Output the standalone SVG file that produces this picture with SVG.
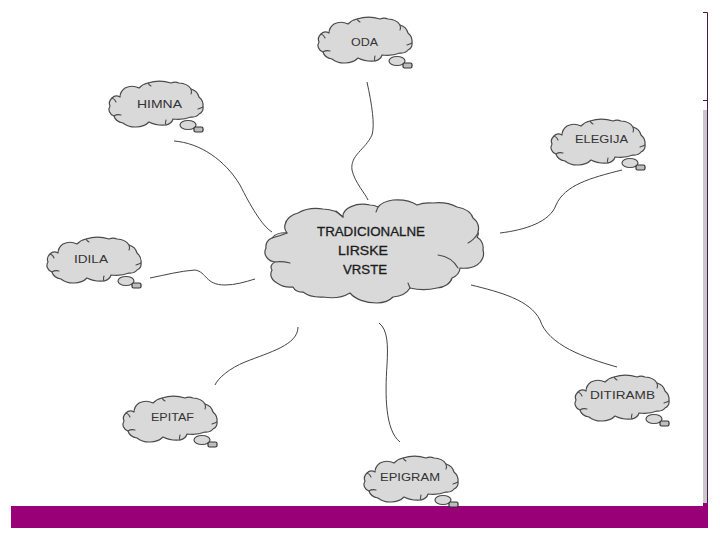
<svg xmlns="http://www.w3.org/2000/svg" width="720" height="540" viewBox="0 0 720 540">
<style>
.cloud{fill:#d9d9d9;stroke:#4a4a4a;stroke-width:1.2;stroke-linejoin:round}
.fold{fill:none;stroke:#4a4a4a;stroke-width:1.1;stroke-linecap:round}
.conn{fill:none;stroke:#444;stroke-width:1}
.lbl{font-family:"Liberation Sans",Arial,sans-serif;font-size:11px;fill:#333}
.main{font-family:"Liberation Sans",Arial,sans-serif;font-size:12px;fill:#1c1c1c;stroke:#1c1c1c;stroke-width:.3}
</style>
<defs>
<g id="small">
<ellipse class="cloud" cx="32" cy="19" rx="8" ry="4.5"/>
<path class="cloud" d="M-46,0A10 8 0 0 1 -44,-8A6 5 0 0 1 -36,-9A14 12 0 0 1 -31,-18A14 12 0 0 1 -17,-18A16 12 0 0 1 -8,-23A26 18 0 0 1 15,-23A9 8 0 0 1 23,-23A14 11 0 0 1 35,-17A12 11 0 0 1 43,-9A14 12 0 0 1 47,1A8 7 0 0 1 43,8A8 6 0 0 1 35,11A22 12 0 0 1 17,13A10 8 0 0 1 10,19A22 14 0 0 1 -7,16A16 11 0 0 1 -20,21A16 11 0 0 1 -33,17A12 9 0 0 1 -42,10A8 7 0 0 1 -46,0Z"/>
<path class="fold" d="M-44,-8Q-41,-7 -40,-4M-8,-23Q-7,-21 -5,-20M35,-17Q36,-14 35,-12M47,1Q45,2 42,3M-42,10Q-39,8 -35,9M10,19Q9,17 10,14"/>
<rect x="38" y="21" width="9" height="5" rx="1.5" fill="#bdbdbd" stroke="#333" stroke-width="1.2"/>
</g>
</defs>
<rect width="720" height="540" fill="#fff"/>
<g id="frame">
<rect x="703" y="110" width="4" height="394" fill="#c8c8cc"/>
<path d="M703,12.5H707.5V527M703,100.5H707" fill="none" stroke="#4a1a48" stroke-width="1"/>
<path d="M11,506H703V503H708V528H11Z" fill="#990077"/>
</g>
<g id="connectors">
<path class="conn" d="M367,82C372,105 375,125 372,135C365,150 350,155 352,170C355,183 365,193 368,200"/>
<path class="conn" d="M174,141C200,143 225,160 240,185C250,205 262,226 272,232"/>
<path class="conn" d="M622,170C590,178 565,185 556,205C550,222 525,230 500,233"/>
<path class="conn" d="M150,278C165,275 180,271 195,270C207,272 205,285 225,285C235,285 245,282 255,279"/>
<path class="conn" d="M298,327C298,345 270,352 245,362C230,368 218,378 215,385"/>
<path class="conn" d="M379,323C388,330 388,345 387,365C385,395 385,430 400,442"/>
<path class="conn" d="M471,285C500,292 530,300 540,320C548,345 585,358 617,367"/>
</g>
<g id="center">
<path class="cloud" d="M266,248A9 9 0 0 1 272,238A14 10 0 0 1 287,233A12 10 0 0 1 285,225A18 14 0 0 1 298,213A28 18 0 0 1 323,209A24 14 0 0 1 343,217A20 12 0 0 1 370,205A12 8 0 0 1 378,207A22 14 0 0 1 393,200A26 14 0 0 1 417,205A20 10 0 0 1 433,203A28 16 0 0 1 457,207A22 14 0 0 1 473,218A16 14 0 0 1 478,232A8 6 0 0 1 477,237A16 14 0 0 1 483,250A16 14 0 0 1 477,265A18 10 0 0 1 460,268A16 12 0 0 1 452,278A18 12 0 0 1 437,288A30 14 0 0 1 410,288A22 14 0 0 1 393,297A20 12 0 0 1 377,303A30 18 0 0 1 350,293A26 14 0 0 1 323,297A22 12 0 0 1 303,292A10 8 0 0 1 293,287A18 12 0 0 1 277,283A12 10 0 0 1 272,270A8 6 0 0 1 275,262A12 10 0 0 1 266,248Z"/>
<path class="fold" d="M336,211Q340,215 343,217M378,207L376,212M478,233Q474,240 468,243M438,255Q452,257 458,268M410,288L408,283M275,262Q282,261 290,263M272,238Q280,236 287,233"/>
<text class="main" x="317" y="236" textLength="108" lengthAdjust="spacingAndGlyphs">TRADICIONALNE</text>
<text class="main" x="338" y="255" textLength="50" lengthAdjust="spacingAndGlyphs">LIRSKE</text>
<text class="main" x="343" y="274" textLength="44" lengthAdjust="spacingAndGlyphs">VRSTE</text>
</g>
<g id="oda"><use href="#small" x="365" y="42"/><text class="lbl" x="351" y="46" textLength="27" lengthAdjust="spacingAndGlyphs">ODA</text></g>
<g id="himna"><use href="#small" x="156" y="106"/><text class="lbl" x="137" y="108" textLength="45" lengthAdjust="spacingAndGlyphs">HIMNA</text></g>
<g id="elegija"><use href="#small" x="598" y="144"/><text class="lbl" x="575" y="143" textLength="53" lengthAdjust="spacingAndGlyphs">ELEGIJA</text></g>
<g id="idila"><use href="#small" x="94" y="262"/><text class="lbl" x="74" y="263" textLength="34" lengthAdjust="spacingAndGlyphs">IDILA</text></g>
<g id="epitaf"><use href="#small" x="170" y="421"/><text class="lbl" x="151" y="421" textLength="43" lengthAdjust="spacingAndGlyphs">EPITAF</text></g>
<g id="epigram"><use href="#small" x="411" y="481"/><text class="lbl" x="380" y="481" textLength="60" lengthAdjust="spacingAndGlyphs">EPIGRAM</text></g>
<g id="ditiramb"><use href="#small" x="622" y="400"/><text class="lbl" x="590" y="399" textLength="65" lengthAdjust="spacingAndGlyphs">DITIRAMB</text></g>
</svg>
